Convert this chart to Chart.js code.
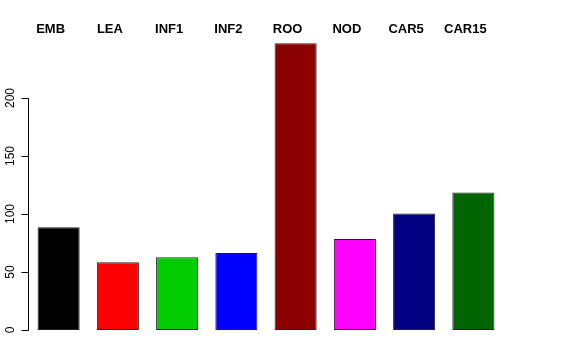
<!DOCTYPE html>
<html>
<head>
<meta charset="utf-8">
<script src="https://cdn.jsdelivr.net/npm/chart.js@4/dist/chart.umd.min.js"></script>
<style>
  html, body { margin: 0; padding: 0; background: #fff; }
</style>
</head>
<body>
<canvas id="myChart" width="576" height="360"></canvas>
<script>
'use strict';
var tissues = ['EMB', 'LEA', 'INF1', 'INF2', 'ROO', 'NOD', 'CAR5', 'CAR15'];
var counts = [88.5, 58.5, 62.8, 66.3, 247.3, 78.5, 100.5, 118.5];
var barColors = ['#000000', '#FF0000', '#00CD00', '#0000FF', '#8B0000', '#FF00FF', '#000080', '#006400'];
var yTicks = [0, 50, 100, 150, 200];

// R-style y axis (line stops at the last tick, labels turned and centred)
// plus the names over the bars
var rStyle = {
    id: 'rStyle',
    afterDraw: function(chart) {
        var ctx = chart.ctx;
        var y = chart.scales.y;
        var x = chart.scales.x;
        var ax = y.right - 0.5;
        ctx.save();
        ctx.strokeStyle = '#000';
        ctx.lineWidth = 1;
        ctx.beginPath();
        ctx.moveTo(ax, Math.round(y.getPixelForValue(yTicks[0])) + 0.5);
        ctx.lineTo(ax, Math.round(y.getPixelForValue(yTicks[yTicks.length - 1])) + 0.5);
        yTicks.forEach(function(v) {
            var py = Math.round(y.getPixelForValue(v)) + 0.5;
            ctx.moveTo(ax, py);
            ctx.lineTo(ax - 7, py);
        });
        ctx.stroke();

        ctx.fillStyle = '#000';
        ctx.font = '12px "Liberation Sans", Arial, sans-serif';
        ctx.textAlign = 'center';
        ctx.textBaseline = 'middle';
        yTicks.forEach(function(v) {
            ctx.save();
            ctx.translate(10.5, y.getPixelForValue(v));
            ctx.rotate(-Math.PI / 2);
            ctx.fillText(String(v), 0, 0);
            ctx.restore();
        });

        ctx.font = 'bold 13px "Liberation Sans", Arial, sans-serif';
        tissues.forEach(function(name, i) {
            ctx.fillText(name, x.getPixelForValue(i) - 8, 29);
        });
        ctx.restore();
    }
};

var ctx = document.getElementById('myChart');
var myChart = new Chart(ctx, {
    type: 'bar',
    data: {
        labels: tissues,
        datasets: [{
            data: counts,
            backgroundColor: barColors,
            borderColor: '#222',
            borderWidth: 1,
            borderSkipped: false,
            categoryPercentage: 1,
            barPercentage: 0.71
        }]
    },
    options: {
        responsive: false,
        animation: false,
        layout: { padding: { top: 40, right: 73, bottom: 30, left: 0 } },
        plugins: {
            legend: { display: false },
            tooltip: { enabled: false }
        },
        scales: {
            x: { display: false },
            y: {
                min: 0,
                max: 250,
                afterBuildTicks: function(scale) {
                    scale.ticks = yTicks.map(function(v) { return { value: v }; });
                },
                afterFit: function(scale) { scale.width = 29; },
                border: { display: false },
                grid: { display: false },
                ticks: { display: false }
            }
        }
    },
    plugins: [rStyle]
});
</script>
</body>
</html>
